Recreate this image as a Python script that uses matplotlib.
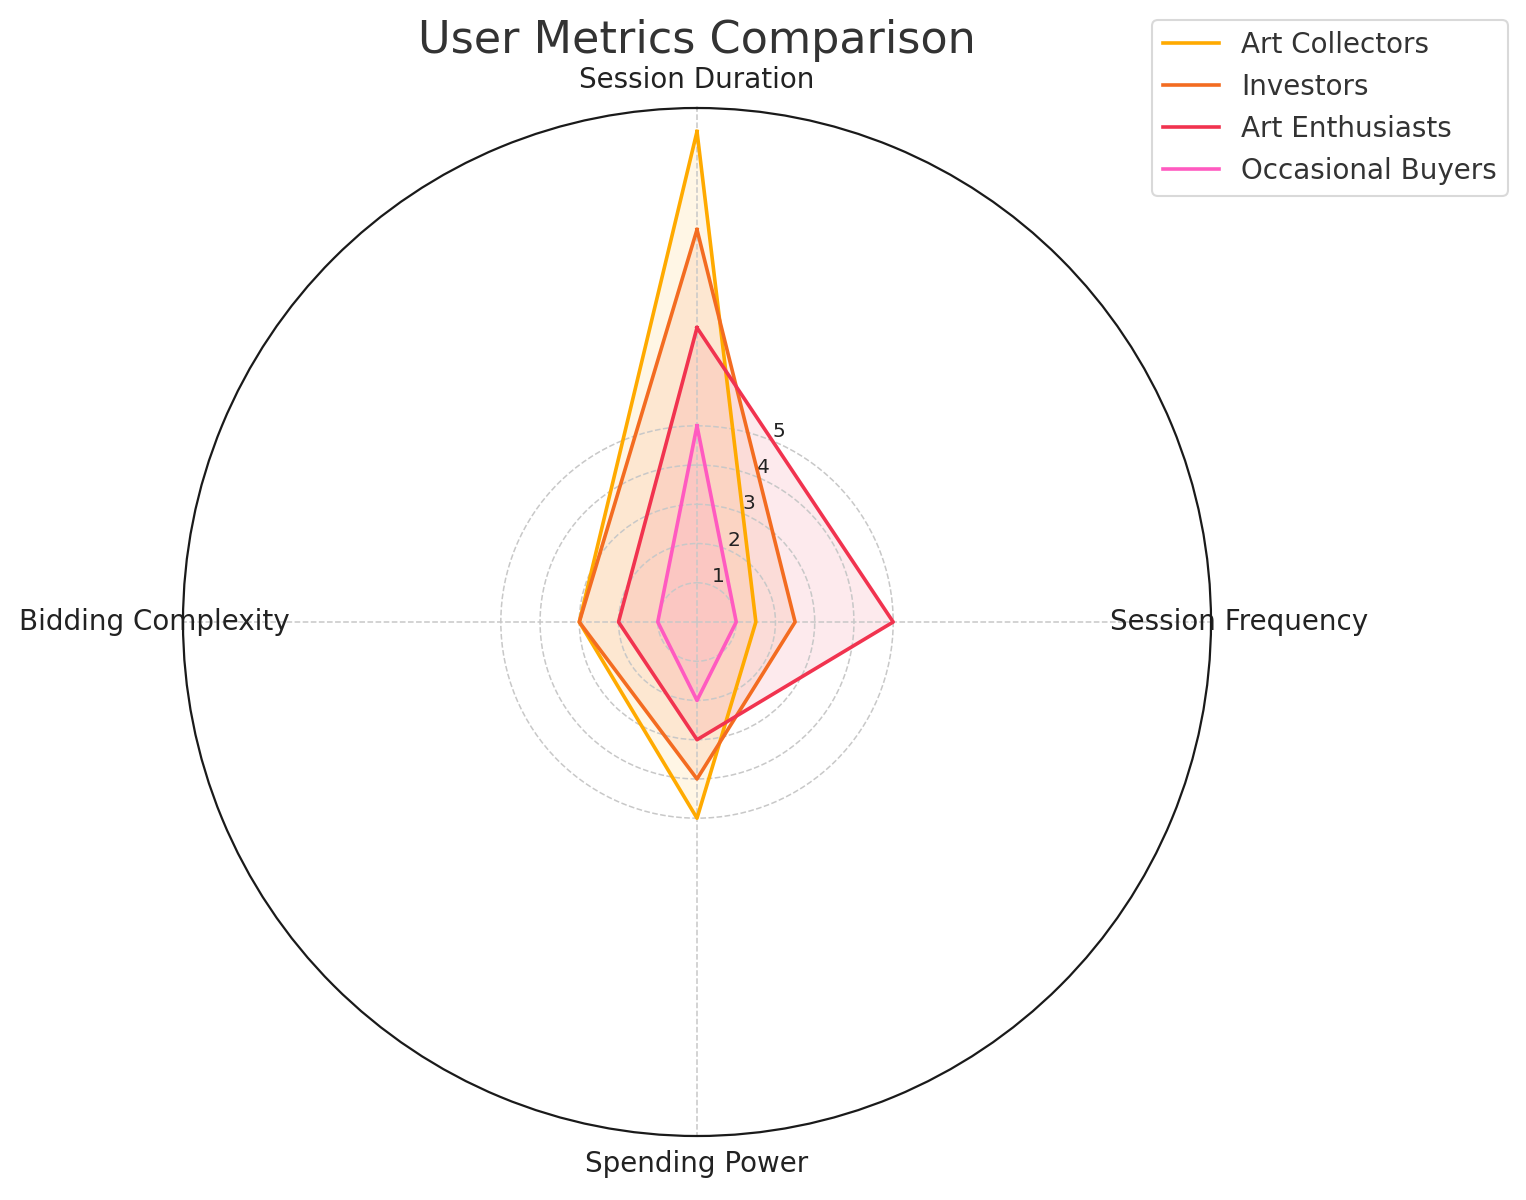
import numpy as np
import matplotlib
matplotlib.use("Agg")
import matplotlib.pyplot as plt

categories = ["Session Duration", "Session Frequency", "Spending Power", "Bidding Complexity"]
art_collectors = [12.5, 1.5, 5, 3]
investors = [10, 2.5, 4, 3]
art_enthusiasts = [7.5, 5, 3, 2]
occasional_buyers = [5, 1, 2, 1]
series_names = ["Art Collectors", "Investors", "Art Enthusiasts", "Occasional Buyers"]
series_values = [art_collectors, investors, art_enthusiasts, occasional_buyers]
colors = ["#FFAA00", "#F36C21", "#F1334F", "#FF5AC0"]
r_ticks = [1, 2, 3, 4, 5]

fig = plt.figure(figsize=(15.26, 12), dpi=100)
ax = fig.add_axes([183/1526, 1 - 1136/1200, 1028/1526, 1028/1200], projection="polar")
ax.set_theta_zero_location("N")
ax.set_theta_direction(-1)

n = len(categories)
angles = np.linspace(0, 2*np.pi, n, endpoint=False).tolist()
angles_c = angles + angles[:1]

for name, vals, c in zip(series_names, series_values, colors):
    v = list(vals) + vals[:1]
    ax.plot(angles_c, v, color=c, linewidth=2.6, label=name)
    ax.fill(angles_c, v, color=c, alpha=0.1)

ax.set_ylim(0, 13.1)
ax.set_yticks(r_ticks)
ax.set_yticklabels([str(t) for t in r_ticks], fontsize=14.5, color="#222222")
ax.set_rlabel_position(22.5)
ax.set_xticks(angles)
ax.set_xticklabels(categories, fontsize=20, color="#222222")
ax.tick_params(axis="x", pad=10)
ax.grid(True, color="#c8c8c8", linestyle="--", linewidth=1.1)
ax.spines["polar"].set_color("#1a1a1a")
ax.spines["polar"].set_linewidth(1.6)
ax.set_facecolor("white")

fig.text(697/1526, 1 - 40/1200, "User Metrics Comparison", fontsize=32,
         color="#333333", ha="center", va="center")

leg = fig.legend(loc="upper right", bbox_to_anchor=(1508/1526, 1 - 20/1200),
                 bbox_transform=fig.transFigure, borderaxespad=0, fontsize=20,
                 frameon=True, handlelength=2.0)
leg.get_frame().set_edgecolor("#d0d0d0")
leg.get_frame().set_linewidth(1.5)
for t in leg.get_texts():
    t.set_color("#333333")

fig.savefig("out.png", dpi=100)
